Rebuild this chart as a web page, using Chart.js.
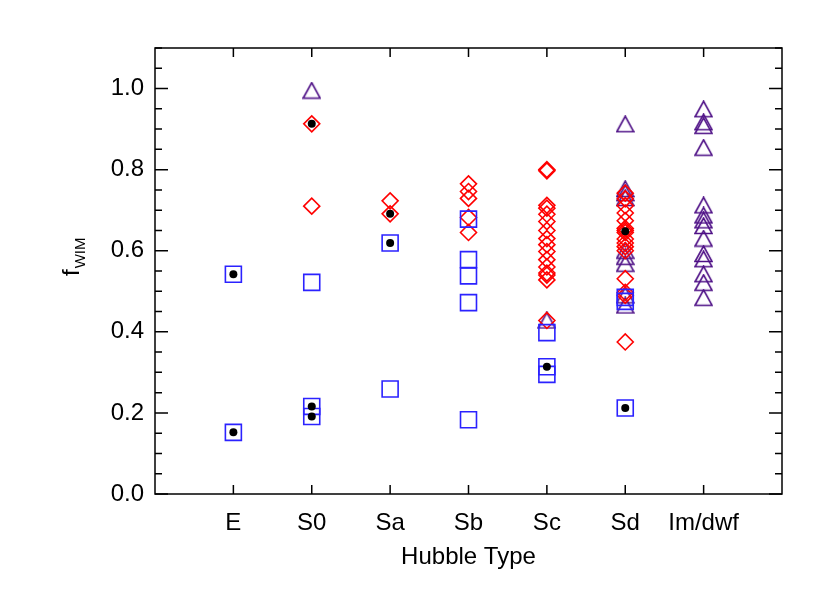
<!DOCTYPE html>
<html lang="en">
<head>
    <meta charset="UTF-8">
    <title>f_WIM vs Hubble Type</title>
    <script src="https://cdn.jsdelivr.net/npm/chart.js"></script>
    <style>
        html, body { margin: 0; padding: 0; background: #fff; }
        #wrap { width: 830px; height: 593px; }
    </style>
</head>
<body>
    <div id="wrap"><canvas id="fwimChart"></canvas></div>

    <script>
        // Hubble types along the x axis (placed at 1..7)
        const categories = ['E', 'S0', 'Sa', 'Sb', 'Sc', 'Sd', 'Im/dwf'];
        const yTickLabels = [0.0, 0.2, 0.4, 0.6, 0.8, 1.0];

        // one inner array per Hubble type
        const squareVals = [
            [0.542, 0.152],
            [0.522, 0.216, 0.191],
            [0.619, 0.259],
            [0.678, 0.578, 0.538, 0.472, 0.183],
            [0.398, 0.314, 0.295],
            [0.485, 0.475, 0.212],
            []
        ];
        const diamondVals = [
            [],
            [0.913, 0.710],
            [0.723, 0.691],
            [0.765, 0.746, 0.729, 0.682, 0.645],
            [0.800, 0.797, 0.712, 0.705, 0.690, 0.672, 0.650, 0.630, 0.615, 0.598, 0.578, 0.560, 0.545, 0.540, 0.528, 0.428],
            [0.742, 0.728, 0.711, 0.693, 0.674, 0.655, 0.650, 0.645, 0.629, 0.619, 0.610, 0.600, 0.531, 0.497, 0.490, 0.375],
            []
        ];
        const triangleVals = [
            [],
            [0.995],
            [],
            [],
            [0.428],
            [0.912, 0.752, 0.742, 0.730, 0.600, 0.585, 0.568, 0.490, 0.465],
            [0.949, 0.917, 0.908, 0.854, 0.712, 0.687, 0.675, 0.661, 0.630, 0.592, 0.579, 0.542, 0.521, 0.484]
        ];
        const dotVals = [
            [0.542, 0.152],
            [0.913, 0.216, 0.191],
            [0.691, 0.619],
            [],
            [0.314],
            [0.648, 0.212],
            []
        ];

        function toPoints(groups) {
            const pts = [];
            groups.forEach((vals, i) => vals.forEach(v => pts.push({ x: i + 1, y: v })));
            return pts;
        }

        // IDL-like open triangle, centred on its bounding box
        function triangleMarker(color) {
            const c = document.createElement('canvas');
            c.width = 19; c.height = 18;
            const g = c.getContext('2d');
            g.strokeStyle = color;
            g.lineWidth = 1.6;
            g.beginPath();
            g.moveTo(1, 16.5);
            g.lineTo(9.5, 1);
            g.lineTo(18, 16.5);
            g.closePath();
            g.stroke();
            return c;
        }

        const FONT = 'Liberation Sans';
        const BLUE = '#2b22ff';
        const RED = '#ff0000';
        const PURPLE = '#4e1086';

        // frame, inward ticks and the axis titles
        const framePlugin = {
            id: 'frame',
            afterDraw(chart) {
                const { ctx, chartArea: a, scales } = chart;
                ctx.save();
                ctx.strokeStyle = '#000';
                ctx.lineWidth = 1.5;
                ctx.strokeRect(a.left, a.top, a.right - a.left, a.bottom - a.top);
                ctx.beginPath();
                for (let i = 1; i <= categories.length; i++) {
                    const px = scales.x.getPixelForValue(i);
                    ctx.moveTo(px, a.bottom); ctx.lineTo(px, a.bottom - 9);
                    ctx.moveTo(px, a.top); ctx.lineTo(px, a.top + 9);
                }
                for (let k = 0; k <= 22; k++) {
                    const py = scales.y.getPixelForValue(k * 0.05);
                    const len = (k % 4 === 0) ? 13 : 7;
                    ctx.moveTo(a.left, py); ctx.lineTo(a.left + len, py);
                    ctx.moveTo(a.right, py); ctx.lineTo(a.right - len, py);
                }
                ctx.stroke();

                ctx.fillStyle = '#000';
                ctx.textAlign = 'center';
                ctx.textBaseline = 'middle';
                ctx.font = '24px "' + FONT + '"';
                ctx.fillText('Hubble Type', (a.left + a.right) / 2, 557);

                ctx.textAlign = 'left';
                ctx.textBaseline = 'alphabetic';
                ctx.translate(79, 276);
                ctx.rotate(-Math.PI / 2);
                ctx.fillText('f', 0, 0);
                const fw = ctx.measureText('f').width;
                ctx.font = '15px "' + FONT + '"';
                ctx.fillText('WIM', fw + 1, 6);
                ctx.restore();
            }
        };

        const ctx = document.getElementById('fwimChart').getContext('2d');
        new Chart(ctx, {
            type: 'scatter',
            data: {
                datasets: [
                    {
                        label: 'dots',
                        data: toPoints(dotVals),
                        pointStyle: 'circle',
                        pointRadius: 4,
                        backgroundColor: '#000',
                        borderColor: '#000',
                        borderWidth: 0
                    },
                    {
                        label: 'squares',
                        data: toPoints(squareVals),
                        pointStyle: 'rect',
                        pointRadius: 11.3,
                        backgroundColor: 'rgba(0,0,0,0)',
                        borderColor: BLUE,
                        borderWidth: 1.6
                    },
                    {
                        label: 'diamonds',
                        data: toPoints(diamondVals),
                        pointStyle: 'rectRot',
                        pointRadius: 8,
                        backgroundColor: 'rgba(0,0,0,0)',
                        borderColor: RED,
                        borderWidth: 1.6
                    },
                    {
                        label: 'triangles',
                        data: toPoints(triangleVals),
                        pointStyle: triangleMarker(PURPLE),
                        pointRadius: 9
                    }
                ]
            },
            options: {
                responsive: true,
                maintainAspectRatio: false,
                animation: false,
                layout: { padding: 0 },
                plugins: {
                    legend: { display: false },
                    tooltip: { enabled: false }
                },
                scales: {
                    x: {
                        type: 'linear',
                        position: 'bottom',
                        min: 0,
                        max: 8,
                        afterBuildTicks: s => { s.ticks = categories.map((c, i) => ({ value: i + 1 })); },
                        afterFit: s => { s.height = 99; },
                        grid: { display: false, drawTicks: false },
                        border: { display: false },
                        ticks: {
                            padding: 15,
                            color: '#000',
                            font: { family: FONT, size: 24 },
                            maxRotation: 0,
                            autoSkip: false,
                            callback: v => categories[v - 1]
                        }
                    },
                    x2: {
                        type: 'linear',
                        position: 'top',
                        min: 0,
                        max: 8,
                        afterFit: s => { s.height = 48; },
                        grid: { display: false, drawTicks: false },
                        border: { display: false },
                        ticks: { display: false }
                    },
                    y: {
                        type: 'linear',
                        position: 'left',
                        min: 0,
                        max: 1.1,
                        afterBuildTicks: s => { s.ticks = yTickLabels.map(v => ({ value: v })); },
                        afterFit: s => { s.width = 155; },
                        grid: { display: false, drawTicks: false },
                        border: { display: false },
                        ticks: {
                            padding: 11,
                            color: '#000',
                            font: { family: FONT, size: 24 },
                            callback: v => v.toFixed(1)
                        }
                    },
                    y2: {
                        type: 'linear',
                        position: 'right',
                        min: 0,
                        max: 1.1,
                        afterFit: s => { s.width = 48; },
                        grid: { display: false, drawTicks: false },
                        border: { display: false },
                        ticks: { display: false }
                    }
                }
            },
            plugins: [framePlugin]
        });
    </script>
</body>
</html>
